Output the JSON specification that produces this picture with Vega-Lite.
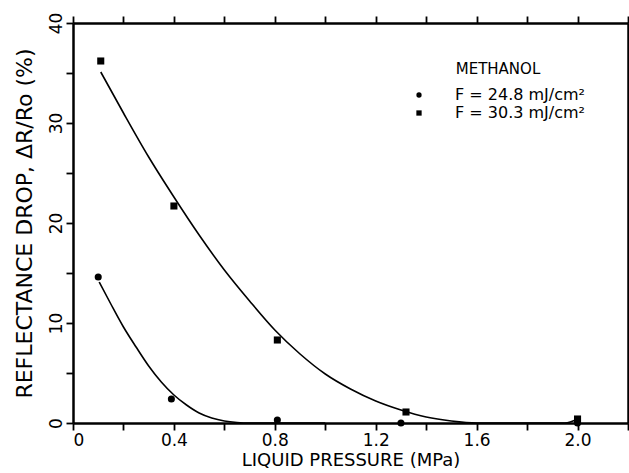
{
  "$schema": "https://vega.github.io/schema/vega-lite/v6.json",
  "width": 555,
  "height": 400,
  "autosize": {"type": "none"},
  "padding": {"left": 73, "top": 23, "right": 1, "bottom": 50},
  "background": "white",
  "datasets": {
    "curves": [
      {"x": 0.104, "y": 14.1, "series": "F = 24.8 mJ/cm²"},
      {"x": 0.15, "y": 11.9, "series": "F = 24.8 mJ/cm²"},
      {"x": 0.2, "y": 9.6, "series": "F = 24.8 mJ/cm²"},
      {"x": 0.25, "y": 7.6, "series": "F = 24.8 mJ/cm²"},
      {"x": 0.3, "y": 5.7, "series": "F = 24.8 mJ/cm²"},
      {"x": 0.35, "y": 4.1, "series": "F = 24.8 mJ/cm²"},
      {"x": 0.4, "y": 2.8, "series": "F = 24.8 mJ/cm²"},
      {"x": 0.45, "y": 1.8, "series": "F = 24.8 mJ/cm²"},
      {"x": 0.5, "y": 1.0, "series": "F = 24.8 mJ/cm²"},
      {"x": 0.55, "y": 0.5, "series": "F = 24.8 mJ/cm²"},
      {"x": 0.6, "y": 0.2, "series": "F = 24.8 mJ/cm²"},
      {"x": 0.65, "y": 0.05, "series": "F = 24.8 mJ/cm²"},
      {"x": 0.7, "y": 0.0, "series": "F = 24.8 mJ/cm²"},
      {"x": 1.0, "y": 0.0, "series": "F = 24.8 mJ/cm²"},
      {"x": 0.11, "y": 35.1, "series": "F = 30.3 mJ/cm²"},
      {"x": 0.2, "y": 31.0, "series": "F = 30.3 mJ/cm²"},
      {"x": 0.3, "y": 26.6, "series": "F = 30.3 mJ/cm²"},
      {"x": 0.4, "y": 22.6, "series": "F = 30.3 mJ/cm²"},
      {"x": 0.5, "y": 18.8, "series": "F = 30.3 mJ/cm²"},
      {"x": 0.6, "y": 15.3, "series": "F = 30.3 mJ/cm²"},
      {"x": 0.7, "y": 12.2, "series": "F = 30.3 mJ/cm²"},
      {"x": 0.8, "y": 9.3, "series": "F = 30.3 mJ/cm²"},
      {"x": 0.9, "y": 6.9, "series": "F = 30.3 mJ/cm²"},
      {"x": 1.0, "y": 4.9, "series": "F = 30.3 mJ/cm²"},
      {"x": 1.1, "y": 3.4, "series": "F = 30.3 mJ/cm²"},
      {"x": 1.2, "y": 2.2, "series": "F = 30.3 mJ/cm²"},
      {"x": 1.3, "y": 1.3, "series": "F = 30.3 mJ/cm²"},
      {"x": 1.4, "y": 0.6, "series": "F = 30.3 mJ/cm²"},
      {"x": 1.5, "y": 0.2, "series": "F = 30.3 mJ/cm²"},
      {"x": 1.6, "y": 0.0, "series": "F = 30.3 mJ/cm²"},
      {"x": 1.95, "y": 0.0, "series": "F = 30.3 mJ/cm²"},
      {"x": 2.0, "y": 0.4, "series": "F = 30.3 mJ/cm²"}
    ],
    "points": [
      {"x": 0.1, "y": 14.6, "series": "F = 24.8 mJ/cm²"},
      {"x": 0.39, "y": 2.4, "series": "F = 24.8 mJ/cm²"},
      {"x": 0.81, "y": 0.3, "series": "F = 24.8 mJ/cm²"},
      {"x": 1.3, "y": 0.0, "series": "F = 24.8 mJ/cm²"},
      {"x": 2.0, "y": 0.0, "series": "F = 24.8 mJ/cm²"},
      {"x": 0.11, "y": 36.2, "series": "F = 30.3 mJ/cm²"},
      {"x": 0.4, "y": 21.7, "series": "F = 30.3 mJ/cm²"},
      {"x": 0.81, "y": 8.3, "series": "F = 30.3 mJ/cm²"},
      {"x": 1.32, "y": 1.1, "series": "F = 30.3 mJ/cm²"},
      {"x": 2.0, "y": 0.4, "series": "F = 30.3 mJ/cm²"}
    ]
  },
  "layer": [
    {
      "data": {"name": "curves"},
      "mark": {"type": "line", "interpolate": "monotone", "color": "black", "strokeWidth": 1.6},
      "encoding": {
        "x": {
          "field": "x", "type": "quantitative",
          "scale": {"domain": [0, 2.2], "nice": false, "zero": false},
          "axis": {
            "orient": "bottom",
            "title": "LIQUID PRESSURE (MPa)",
            "values": [0, 0.2, 0.4, 0.6, 0.8, 1.0, 1.2, 1.4, 1.6, 1.8, 2.0, 2.2],
            "labelExpr": "datum.value == 0 ? '0' : (round(datum.value * 10) % 4 == 0 && datum.value < 2.1 ? format(datum.value, '.1f') : '')",
            "labelPadding": 2,
            "titlePadding": 3,
            "titleFontSize": 18
          }
        },
        "y": {
          "field": "y", "type": "quantitative",
          "scale": {"domain": [0, 40], "nice": false},
          "axis": {
            "orient": "left",
            "title": "REFLECTANCE DROP, ΔR/Ro (%)",
            "values": [0, 5, 10, 15, 20, 25, 30, 35, 40],
            "labelExpr": "round(datum.value) % 10 == 0 ? datum.label : ''",
            "labelAngle": -90,
            "labelAlign": "center",
            "labelBaseline": "bottom",
            "labelPadding": 1,
            "titlePadding": 11,
            "titleFontSize": 22
          }
        },
        "detail": {"field": "series", "type": "nominal"}
      }
    },
    {
      "data": {"name": "points"},
      "mark": {"type": "point", "filled": true, "color": "black", "opacity": 1, "size": 50},
      "encoding": {
        "x": {
          "field": "x", "type": "quantitative",
          "scale": {"domain": [0, 2.2], "nice": false, "zero": false},
          "axis": {
            "orient": "top", "title": null, "labels": false,
            "values": [0, 0.2, 0.4, 0.6, 0.8, 1.0, 1.2, 1.4, 1.6, 1.8, 2.0, 2.2]
          }
        },
        "y": {
          "field": "y", "type": "quantitative",
          "scale": {"domain": [0, 40], "nice": false},
          "axis": {
            "orient": "right", "title": null, "labels": false,
            "values": [0, 5, 10, 15, 20, 25, 30, 35, 40]
          }
        },
        "shape": {
          "field": "series", "type": "nominal",
          "scale": {"domain": ["F = 24.8 mJ/cm²", "F = 30.3 mJ/cm²"], "range": ["circle", "square"]},
          "legend": {
            "title": "METHANOL",
            "orient": "none",
            "legendX": 338,
            "legendY": 39,
            "titleAnchor": "middle",
            "titleFontSize": 15,
            "titleFontWeight": "normal",
            "titleFont": "DejaVu Sans",
            "titleColor": "black",
            "titlePadding": 10,
            "labelFontSize": 16,
            "labelFont": "DejaVu Sans",
            "labelColor": "black",
            "labelOffset": 28,
            "symbolSize": 28,
            "symbolFillColor": "black",
            "symbolStrokeColor": "black",
            "rowPadding": 2
          }
        }
      }
    }
  ],
  "resolve": {"axis": {"x": "independent", "y": "independent"}},
  "config": {
    "axis": {
      "grid": false,
      "domainColor": "black",
      "domainWidth": 2.5,
      "tickColor": "black",
      "tickWidth": 1.8,
      "tickSize": 7,
      "labelFont": "DejaVu Sans",
      "labelFontSize": 17,
      "labelColor": "black",
      "titleFont": "DejaVu Sans",
      "titleFontWeight": "normal",
      "titleColor": "black"
    }
  }
}
